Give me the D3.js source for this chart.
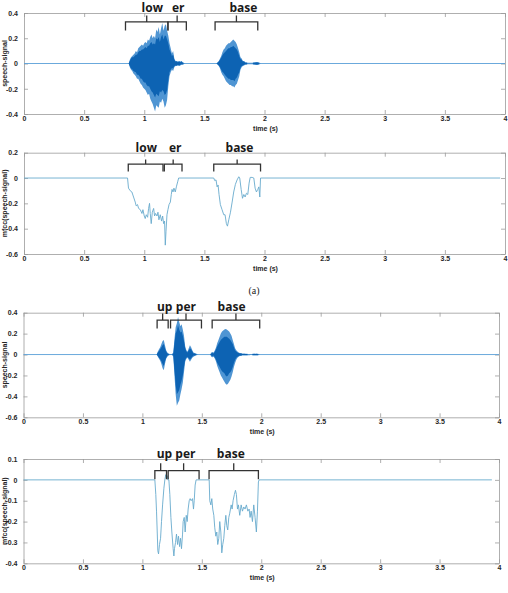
<!DOCTYPE html>
<html>
<head>
<meta charset="utf-8">
<script src="https://cdn.jsdelivr.net/npm/d3@7"></script>
<style>
  body { margin: 0; background: #fff; }
  svg { display: block; }
</style>
</head>
<body>
<div id="chart"></div>
<script>
// ---- data ----
const xTicks = [0, 0.5, 1, 1.5, 2, 2.5, 3, 3.5, 4];

// (a) "lower base": speech envelope (outer peaks + dark core)
const sig1Time = [0.87,0.88,0.89,0.90,0.91,0.92,0.93,0.94,0.95,0.96,0.97,0.98,0.99,1.00,1.01,1.02,1.03,1.04,1.05,1.06,1.07,1.08,1.09,1.10,1.11,1.12,1.13,1.14,1.15,1.16,1.17,1.18,1.19,1.20,1.21,1.22,1.23,1.24,1.25,1.26,1.27,1.28,1.29,1.30,1.31,1.32,1.33,1.34,
  1.60,1.61,1.62,1.63,1.64,1.65,1.66,1.67,1.68,1.69,1.70,1.71,1.72,1.73,1.74,1.75,1.76,1.77,1.78,1.79,1.80,1.81,1.82,1.83,1.84,1.85,1.86,1.87,1.88,1.89,1.90,1.91,1.92,1.93,1.94,1.95,1.96,1.97];
const sig1Upper = [0,.03,.05,.06,.07,.08,.10,.09,.12,.13,.14,.15,.14,.16,.17,.16,.19,.18,.21,.23,.20,.22,.20,.27,.25,.29,.23,.28,.32,.26,.30,.31,.26,.22,.16,.12,.08,.10,.04,.02,.02,.015,.02,.015,.02,.01,.005,0,
  0,.01,.02,.04,.06,.09,.11,.12,.14,.15,.16,.16,.17,.18,.19,.18,.17,.15,.12,.09,.05,.04,.02,.02,.01,.01,.005,.005,.005,.005,.005,.01,.01,.012,.012,.01,.005,0];
const sig1Lower = [0,-.03,-.05,-.06,-.08,-.09,-.10,-.12,-.12,-.14,-.16,-.17,-.19,-.20,-.21,-.23,-.25,-.24,-.28,-.30,-.32,-.35,-.38,-.33,-.34,-.35,-.30,-.31,-.28,-.30,-.35,-.33,-.29,-.18,-.10,-.07,-.05,-.06,-.03,-.02,-.02,-.015,-.02,-.015,-.01,-.01,-.005,0,
  0,-.01,-.02,-.04,-.07,-.09,-.10,-.12,-.14,-.15,-.16,-.17,-.17,-.18,-.18,-.19,-.17,-.16,-.13,-.10,-.05,-.03,-.02,-.015,-.01,-.01,-.005,-.005,-.005,-.005,-.005,-.01,-.01,-.012,-.012,-.01,-.005,0];
const sig1CoreUpper = [0,.02,.04,.05,.05,.06,.07,.07,.09,.10,.10,.11,.11,.12,.13,.12,.14,.14,.16,.17,.15,.16,.15,.20,.19,.21,.17,.21,.23,.19,.22,.22,.19,.16,.11,.09,.06,.07,.03,.015,.015,.01,.015,.01,.015,.005,0,0,
  0,.005,.015,.03,.045,.065,.08,.09,.10,.11,.12,.12,.13,.13,.14,.13,.12,.11,.09,.06,.035,.03,.015,.015,.005,.005,0,0,0,0,0,.005,.005,.008,.008,.005,0,0];
const sig1CoreLower = [0,-.02,-.04,-.045,-.06,-.065,-.07,-.09,-.09,-.10,-.12,-.12,-.14,-.15,-.15,-.17,-.18,-.18,-.20,-.22,-.23,-.25,-.27,-.24,-.25,-.26,-.22,-.23,-.21,-.22,-.25,-.24,-.21,-.13,-.07,-.05,-.035,-.04,-.02,-.015,-.015,-.01,-.015,-.01,-.005,-.005,0,0,
  0,-.005,-.015,-.03,-.05,-.065,-.075,-.09,-.10,-.11,-.12,-.12,-.13,-.13,-.13,-.14,-.12,-.11,-.09,-.07,-.035,-.02,-.015,-.01,-.005,-.005,0,0,0,0,0,-.005,-.005,-.008,-.008,-.005,0,0];

// (a) mfcc curve
const mfcc1Time = [0,0.861,0.869,0.883,0.897,0.911,0.925,0.933,0.944,0.953,0.967,0.981,0.989,1.000,1.008,1.017,1.028,1.036,1.044,1.050,1.058,1.067,1.078,1.086,1.094,1.106,1.114,1.122,1.133,1.144,1.153,1.161,1.169,1.175,1.181,1.189,1.197,1.206,1.217,1.225,1.231,1.239,1.247,1.258,1.267,1.278,1.286,
  1.578,1.586,1.597,1.606,1.614,1.622,1.633,1.647,1.661,1.672,1.683,1.692,1.703,1.717,1.731,1.744,1.758,1.772,1.786,1.794,1.806,1.817,1.828,1.839,1.850,1.861,1.872,1.881,1.897,1.911,1.922,1.933,1.944,1.953,1.961,1.967,3.96];
const mfcc1Value = [0,0,-0.08,-0.10,-0.11,-0.15,-0.19,-0.22,-0.21,-0.24,-0.25,-0.28,-0.25,-0.30,-0.32,-0.29,-0.31,-0.24,-0.20,-0.28,-0.36,-0.27,-0.24,-0.30,-0.28,-0.30,-0.27,-0.33,-0.29,-0.34,-0.30,-0.36,-0.34,-0.53,-0.42,-0.29,-0.25,-0.21,-0.19,-0.13,-0.09,-0.11,-0.08,-0.11,-0.07,-0.03,0,
  0,-0.02,-0.015,-0.07,-0.055,-0.13,-0.21,-0.25,-0.29,-0.29,-0.36,-0.38,-0.33,-0.27,-0.19,-0.11,-0.05,-0.015,0.01,0,-0.09,-0.16,-0.13,-0.15,-0.12,-0.13,-0.04,0.005,0.005,0,-0.08,-0.11,-0.09,-0.07,-0.15,0,0];

// (b) "upper base": speech envelope
const sig2Time = [1.12,1.13,1.14,1.15,1.16,1.17,1.18,1.19,1.20,1.21,1.22,1.23,1.24,1.25,1.26,1.27,1.28,1.29,1.30,1.31,1.32,1.33,1.34,1.35,1.36,1.37,1.38,1.39,1.40,1.41,1.42,1.43,1.44,1.45,1.46,1.47,
  1.57,1.58,1.59,1.60,1.61,1.62,1.63,1.64,1.65,1.66,1.67,1.68,1.69,1.70,1.71,1.72,1.73,1.74,1.75,1.76,1.77,1.78,1.79,1.80,1.81,1.82,1.83,1.84,1.85,1.86,1.87,1.88,1.89,1.90,1.91,1.92,1.93,1.94,1.95,1.96,1.97,1.98,1.99];
const sig2Upper = [0,.03,.05,.07,.10,.13,.14,.09,.04,.02,.01,.005,.005,.005,.02,.15,.26,.30,.36,.31,.27,.29,.24,.18,.08,.04,.03,.06,.09,.07,.04,.02,.015,.01,.005,0,
  0,.02,.025,.02,.04,.07,.11,.14,.17,.20,.22,.23,.24,.245,.24,.23,.22,.20,.18,.14,.10,.06,.04,.03,.02,.015,.015,.01,.01,.01,.008,.008,.006,.006,.005,.005,.008,.01,.008,.01,.008,.005,0];
const sig2Lower = [0,-.02,-.04,-.06,-.09,-.13,-.15,-.09,-.04,-.02,-.01,-.005,-.005,-.005,-.02,-.20,-.38,-.49,-.46,-.44,-.38,-.33,-.27,-.17,-.07,-.04,-.03,-.05,-.07,-.05,-.03,-.02,-.015,-.01,-.005,0,
  0,-.02,-.025,-.02,-.04,-.07,-.11,-.14,-.17,-.20,-.22,-.24,-.26,-.28,-.29,-.28,-.26,-.24,-.21,-.17,-.12,-.08,-.05,-.03,-.02,-.015,-.015,-.01,-.01,-.01,-.008,-.008,-.006,-.006,-.005,-.005,-.008,-.01,-.008,-.01,-.008,-.005,0];
const sig2CoreUpper = [0,.02,.035,.05,.07,.09,.10,.06,.03,.01,.005,0,0,0,.01,.11,.20,.23,.28,.24,.21,.22,.18,.13,.06,.03,.02,.04,.06,.05,.03,.01,.01,.005,0,0,
  0,.01,.015,.01,.03,.05,.08,.10,.12,.14,.15,.16,.17,.17,.17,.16,.15,.14,.12,.10,.07,.04,.03,.02,.015,.01,.01,.005,.005,.005,.005,.005,0,0,0,0,.005,.005,.005,.005,.005,0,0];
const sig2CoreLower = [0,-.015,-.03,-.045,-.065,-.09,-.11,-.065,-.03,-.01,-.005,0,0,0,-.01,-.15,-.29,-.38,-.36,-.34,-.29,-.25,-.20,-.12,-.05,-.03,-.02,-.035,-.05,-.035,-.02,-.01,-.01,-.005,0,0,
  0,-.01,-.015,-.01,-.03,-.05,-.08,-.10,-.12,-.14,-.16,-.17,-.18,-.20,-.21,-.20,-.18,-.17,-.15,-.12,-.08,-.05,-.03,-.02,-.015,-.01,-.01,-.005,-.005,-.005,-.005,-.005,0,0,0,0,-.005,-.005,-.005,-.005,-.005,0,0];

// (b) mfcc curve
const mfcc2Time = [0,1.105,1.113,1.119,1.125,1.130,1.136,1.144,1.153,1.161,1.170,1.181,1.189,1.197,1.203,1.209,1.214,1.223,1.231,1.240,1.248,1.259,1.265,1.270,1.279,1.287,1.296,1.304,1.313,1.321,1.329,1.338,1.343,1.352,1.360,1.369,1.377,1.385,1.394,1.402,1.410,1.422,1.430,1.436,1.444,1.452,
  1.562,1.567,1.576,1.584,1.592,1.601,1.609,1.618,1.626,1.634,1.643,1.651,1.660,1.668,1.676,1.685,1.693,1.702,1.710,1.718,1.727,1.735,1.747,1.755,1.763,1.774,1.783,1.791,1.800,1.808,1.819,1.831,1.842,1.853,1.864,1.875,1.887,1.898,1.906,1.915,1.926,1.937,1.948,1.959,1.968,1.976,1.982,3.94];
const mfcc2Value = [0,0,-0.07,-0.15,-0.25,-0.34,-0.355,-0.31,-0.28,-0.20,-0.12,-0.04,0,0.025,0.005,0.02,0,0,-0.07,-0.18,-0.25,-0.33,-0.365,-0.33,-0.30,-0.26,-0.31,-0.27,-0.32,-0.28,-0.33,-0.26,-0.20,-0.18,-0.25,-0.17,-0.20,-0.14,-0.10,-0.09,-0.10,-0.09,-0.14,-0.10,-0.025,0,
  0,-0.10,-0.12,-0.09,-0.14,-0.17,-0.23,-0.27,-0.25,-0.31,-0.28,-0.20,-0.25,-0.35,-0.31,-0.28,-0.22,-0.17,-0.22,-0.24,-0.18,-0.16,-0.12,-0.14,-0.10,-0.07,-0.05,-0.07,-0.14,-0.12,-0.17,-0.12,-0.15,-0.13,-0.14,-0.12,-0.15,-0.14,-0.18,-0.15,-0.20,-0.12,-0.18,-0.25,-0.15,-0.01,0,0];

// word brackets: [start, end] in seconds, label and label position
const words1 = ["low", "er", "base"];
const spans1 = [[0.844, 1.197], [1.197, 1.35], [1.589, 1.944]];
const labelAt1 = [1.067, 1.283, 1.825];
const spans1m = [[0.867, 1.156], [1.167, 1.314], [1.578, 1.967]];
const labelAt1m = [1.017, 1.258, 1.792];
const words2 = ["up", "per", "base"];
const spans2 = [[1.124, 1.217], [1.237, 1.497], [1.587, 1.987]];
const labelAt2 = [1.188, 1.366, 1.75];
const spans2m = [[1.105, 1.203], [1.217, 1.477], [1.561, 1.976]];
const labelAt2m = [1.186, 1.362, 1.744];

// ---- drawing ----
const W = 508, H = 593;
const svg = d3.select('#chart').append('svg')
    .attr('width', W).attr('height', H);

const fmt = d => String(+d.toFixed(2));
const speechDark = '#0d63b3', speechLight = '#4f95d3', mfccColor = '#68aacd';

function makePanel(box, yDomain, yTicks, yLabel) {
    const x = d3.scaleLinear().domain([0, 4]).range([box.left, box.right]);
    const y = d3.scaleLinear().domain(yDomain).range([box.bottom, box.top]);
    const g = svg.append('g');

    const axes = [
        [d3.axisBottom(x).tickValues(xTicks).tickFormat(fmt).tickPadding(2), `translate(0,${box.bottom})`],
        [d3.axisTop(x).tickValues(xTicks).tickFormat(''), `translate(0,${box.top})`],
        [d3.axisLeft(y).tickValues(yTicks).tickFormat(fmt).tickPadding(6), `translate(${box.left},0)`],
        [d3.axisRight(y).tickValues(yTicks).tickFormat(''), `translate(${box.right},0)`]
    ];
    axes.forEach(([ax, tr]) => {
        const a = g.append('g').attr('transform', tr)
            .call(ax.tickSizeInner(-4).tickSizeOuter(0));
        a.selectAll('path, line').attr('stroke', '#9a9a9a').attr('stroke-width', 0.8);
        a.selectAll('text')
            .attr('fill', '#262626')
            .style('font-family', '"Liberation Sans", Arial, sans-serif')
            .style('font-size', '7px')
            .style('font-weight', 'bold');
    });

    g.append('text')
        .attr('x', (box.left + box.right) / 2 + 1)
        .attr('y', box.bottom + 17)
        .attr('text-anchor', 'middle')
        .style('font-family', '"Liberation Sans", Arial, sans-serif')
        .style('font-size', '7px').style('font-weight', 'bold')
        .attr('fill', '#262626')
        .text('time (s)');

    g.append('text')
        .attr('transform', `translate(7,${(box.top + box.bottom) / 2}) rotate(-90)`)
        .attr('text-anchor', 'middle')
        .style('font-family', '"Liberation Sans", Arial, sans-serif')
        .style('font-size', '7px').style('font-weight', 'bold')
        .attr('fill', '#262626')
        .text(yLabel);

    return { g, x, y };
}

function drawSpeech(p, time, up, lo, coreUp, coreLo) {
    // silent baseline over the whole recording
    p.g.append('path')
        .datum([0, 4])
        .attr('d', d3.line().x(d => p.x(d)).y(() => p.y(0)))
        .attr('stroke', '#5a9fd8').attr('stroke-width', 0.9).attr('fill', 'none');
    const idx = d3.range(time.length);
    p.g.append('path')
        .datum(idx)
        .attr('d', d3.area().x(i => p.x(time[i])).y0(i => p.y(lo[i])).y1(i => p.y(up[i])))
        .attr('fill', speechLight);
    p.g.append('path')
        .datum(idx)
        .attr('d', d3.area().x(i => p.x(time[i])).y0(i => p.y(coreLo[i])).y1(i => p.y(coreUp[i])))
        .attr('fill', speechDark);
}

function drawMfcc(p, time, val) {
    p.g.append('path')
        .datum(d3.range(time.length))
        .attr('d', d3.line().x(i => p.x(time[i])).y(i => p.y(val[i])))
        .attr('stroke', mfccColor).attr('stroke-width', 0.9).attr('fill', 'none');
}

function drawBrackets(p, spans, words, labelAt, level, labelLevel, drop, tick) {
    const yb = p.y(level);
    spans.forEach((s, i) => {
        const a = p.x(s[0]), b = p.x(s[1]), m = p.x((s[0] + s[1]) / 2);
        p.g.append('path')
            .attr('d', `M${a},${yb + drop}V${yb}H${b}V${yb + drop}M${m},${yb}V${yb - tick}`)
            .attr('stroke', '#333').attr('stroke-width', 1.3).attr('fill', 'none');
        p.g.append('text')
            .attr('x', p.x(labelAt[i]))
            .attr('y', p.y(labelLevel))
            .attr('text-anchor', 'middle')
            .style('font-family', '"Open Sans", sans-serif')
            .style('font-size', '12px').style('font-weight', 'bold')
            .attr('fill', '#1a1a1a')
            .text(words[i]);
    });
}

const p1 = makePanel({ left: 24, right: 505, top: 13, bottom: 114 }, [-0.4, 0.4], [-0.4, -0.2, 0, 0.2, 0.4], 'speech-signal');
drawSpeech(p1, sig1Time, sig1Upper, sig1Lower, sig1CoreUpper, sig1CoreLower);
drawBrackets(p1, spans1, words1, labelAt1, 0.329, 0.405, 8.5, 6.5);

const p2 = makePanel({ left: 24, right: 505, top: 152.7, bottom: 254 }, [-0.6, 0.2], [-0.6, -0.4, -0.2, 0, 0.2], 'mfcc(speech-signal)');
drawMfcc(p2, mfcc1Time, mfcc1Value);
drawBrackets(p2, spans1m, words1, labelAt1m, 0.11, 0.204, 7.4, 4.5);

svg.append('text')
    .attr('x', 254).attr('y', 294)
    .attr('text-anchor', 'middle')
    .style('font-family', '"Liberation Serif", "Times New Roman", serif')
    .style('font-size', '10px')
    .attr('fill', '#222')
    .text('(a)');

const p3 = makePanel({ left: 23.5, right: 499, top: 312.7, bottom: 417.3 }, [-0.6, 0.4], [-0.6, -0.4, -0.2, 0, 0.2, 0.4], 'speech-signal');
drawSpeech(p3, sig2Time, sig2Upper, sig2Lower, sig2CoreUpper, sig2CoreLower);
drawBrackets(p3, spans2, words2, labelAt2, 0.329, 0.415, 8.3, 6.7);

const p4 = makePanel({ left: 23.5, right: 499, top: 459, bottom: 563.3 }, [-0.4, 0.1], [-0.4, -0.3, -0.2, -0.1, 0, 0.1], 'mfcc(speech-signal)');
drawMfcc(p4, mfcc2Time, mfcc2Value);
drawBrackets(p4, spans2m, words2, labelAt2m, 0.044, 0.107, 8.6, 7.4);
</script>
</body>
</html>
